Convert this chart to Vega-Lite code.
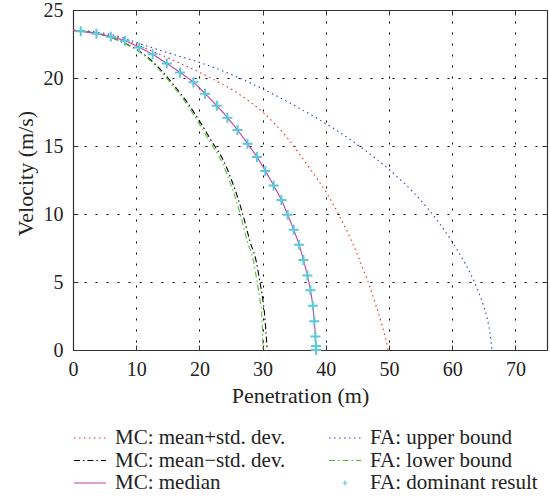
{
  "$schema": "https://vega.github.io/schema/vega-lite/v6.json",
  "width": 474,
  "height": 340,
  "autosize": {"type": "none"},
  "padding": {"left": 73, "top": 10, "right": 3, "bottom": 148},
  "background": "white",
  "config": {
    "view": {"stroke": null},
    "font": "Liberation Serif",
    "axis": {
      "domainColor": "#333333",
      "domainWidth": 1.2,
      "tickColor": "#333333",
      "tickWidth": 1,
      "tickSize": -5,
      "gridColor": "#000000",
      "gridOpacity": 1,
      "gridWidth": 1,
      "gridDash": [2, 9],
      "labelFont": "Liberation Serif",
      "labelFontSize": 20,
      "labelColor": "#222222",
      "labelFlush": false,
      "labelOverlap": false,
      "titleFont": "Liberation Serif",
      "titleFontSize": 22,
      "titleFontWeight": "normal",
      "titleColor": "#222222"
    },
    "legend": {
      "orient": "none",
      "legendX": 0,
      "legendY": 417.5,
      "columns": 2,
      "columnPadding": 42,
      "rowPadding": 0.5,
      "clipHeight": 21,
      "padding": 0,
      "symbolSize": 1024,
      "symbolStrokeWidth": 1.2,
      "labelFont": "Liberation Serif",
      "labelFontSize": 21,
      "labelColor": "#222222",
      "labelOffset": 8,
      "labelLimit": 400
    }
  },
  "datasets": {
    "curves": [
      {"s": "MC: mean+std. dev.", "x": 0, "v": 23.5},
      {"s": "MC: mean+std. dev.", "x": 2, "v": 23.44},
      {"s": "MC: mean+std. dev.", "x": 4, "v": 23.3},
      {"s": "MC: mean+std. dev.", "x": 6, "v": 23.1},
      {"s": "MC: mean+std. dev.", "x": 8, "v": 22.83},
      {"s": "MC: mean+std. dev.", "x": 10, "v": 22.47},
      {"s": "MC: mean+std. dev.", "x": 12, "v": 22.08},
      {"s": "MC: mean+std. dev.", "x": 14, "v": 21.69},
      {"s": "MC: mean+std. dev.", "x": 16, "v": 21.28},
      {"s": "MC: mean+std. dev.", "x": 18, "v": 20.86},
      {"s": "MC: mean+std. dev.", "x": 20, "v": 20.42},
      {"s": "MC: mean+std. dev.", "x": 22, "v": 19.95},
      {"s": "MC: mean+std. dev.", "x": 24, "v": 19.45},
      {"s": "MC: mean+std. dev.", "x": 26, "v": 18.9},
      {"s": "MC: mean+std. dev.", "x": 28, "v": 18.25},
      {"s": "MC: mean+std. dev.", "x": 30, "v": 17.5},
      {"s": "MC: mean+std. dev.", "x": 32, "v": 16.6},
      {"s": "MC: mean+std. dev.", "x": 34, "v": 15.55},
      {"s": "MC: mean+std. dev.", "x": 36, "v": 14.3},
      {"s": "MC: mean+std. dev.", "x": 38, "v": 13.0},
      {"s": "MC: mean+std. dev.", "x": 40, "v": 11.65},
      {"s": "MC: mean+std. dev.", "x": 42, "v": 10.0},
      {"s": "MC: mean+std. dev.", "x": 44, "v": 8.1},
      {"s": "MC: mean+std. dev.", "x": 46, "v": 5.85},
      {"s": "MC: mean+std. dev.", "x": 47, "v": 4.6},
      {"s": "MC: mean+std. dev.", "x": 48, "v": 3.2},
      {"s": "MC: mean+std. dev.", "x": 49, "v": 1.65},
      {"s": "MC: mean+std. dev.", "x": 49.5, "v": 0.8},
      {"s": "MC: mean+std. dev.", "x": 49.85, "v": 0},

      {"s": "FA: upper bound", "x": 0, "v": 23.5},
      {"s": "FA: upper bound", "x": 2, "v": 23.46},
      {"s": "FA: upper bound", "x": 4, "v": 23.36},
      {"s": "FA: upper bound", "x": 6, "v": 23.2},
      {"s": "FA: upper bound", "x": 8, "v": 22.95},
      {"s": "FA: upper bound", "x": 10, "v": 22.62},
      {"s": "FA: upper bound", "x": 12, "v": 22.3},
      {"s": "FA: upper bound", "x": 14, "v": 22.0},
      {"s": "FA: upper bound", "x": 16, "v": 21.72},
      {"s": "FA: upper bound", "x": 18, "v": 21.44},
      {"s": "FA: upper bound", "x": 20, "v": 21.15},
      {"s": "FA: upper bound", "x": 22, "v": 20.82},
      {"s": "FA: upper bound", "x": 24, "v": 20.46},
      {"s": "FA: upper bound", "x": 26, "v": 20.07},
      {"s": "FA: upper bound", "x": 28, "v": 19.65},
      {"s": "FA: upper bound", "x": 30, "v": 19.2},
      {"s": "FA: upper bound", "x": 32, "v": 18.73},
      {"s": "FA: upper bound", "x": 34, "v": 18.24},
      {"s": "FA: upper bound", "x": 36, "v": 17.73},
      {"s": "FA: upper bound", "x": 38, "v": 17.2},
      {"s": "FA: upper bound", "x": 40, "v": 16.65},
      {"s": "FA: upper bound", "x": 42, "v": 16.06},
      {"s": "FA: upper bound", "x": 44, "v": 15.43},
      {"s": "FA: upper bound", "x": 46, "v": 14.76},
      {"s": "FA: upper bound", "x": 48, "v": 14.05},
      {"s": "FA: upper bound", "x": 50, "v": 13.28},
      {"s": "FA: upper bound", "x": 52, "v": 12.44},
      {"s": "FA: upper bound", "x": 54, "v": 11.52},
      {"s": "FA: upper bound", "x": 56, "v": 10.48},
      {"s": "FA: upper bound", "x": 58, "v": 9.3},
      {"s": "FA: upper bound", "x": 60, "v": 7.95},
      {"s": "FA: upper bound", "x": 61, "v": 7.2},
      {"s": "FA: upper bound", "x": 62, "v": 6.4},
      {"s": "FA: upper bound", "x": 63, "v": 5.5},
      {"s": "FA: upper bound", "x": 64, "v": 4.45},
      {"s": "FA: upper bound", "x": 65, "v": 3.2},
      {"s": "FA: upper bound", "x": 65.6, "v": 2.2},
      {"s": "FA: upper bound", "x": 66.05, "v": 1.0},
      {"s": "FA: upper bound", "x": 66.3, "v": 0},

      {"s": "MC: mean−std. dev.", "x": 0, "v": 23.5},
      {"s": "MC: mean−std. dev.", "x": 2, "v": 23.41},
      {"s": "MC: mean−std. dev.", "x": 4, "v": 23.26},
      {"s": "MC: mean−std. dev.", "x": 6, "v": 22.99},
      {"s": "MC: mean−std. dev.", "x": 8, "v": 22.6},
      {"s": "MC: mean−std. dev.", "x": 10, "v": 22.12},
      {"s": "MC: mean−std. dev.", "x": 12, "v": 21.45},
      {"s": "MC: mean−std. dev.", "x": 14, "v": 20.55},
      {"s": "MC: mean−std. dev.", "x": 16, "v": 19.45},
      {"s": "MC: mean−std. dev.", "x": 18, "v": 18.25},
      {"s": "MC: mean−std. dev.", "x": 20, "v": 16.85},
      {"s": "MC: mean−std. dev.", "x": 22, "v": 15.3},
      {"s": "MC: mean−std. dev.", "x": 24, "v": 13.75},
      {"s": "MC: mean−std. dev.", "x": 25, "v": 12.6},
      {"s": "MC: mean−std. dev.", "x": 26, "v": 11.3},
      {"s": "MC: mean−std. dev.", "x": 27, "v": 9.75},
      {"s": "MC: mean−std. dev.", "x": 28, "v": 8.0},
      {"s": "MC: mean−std. dev.", "x": 29, "v": 6.5},
      {"s": "MC: mean−std. dev.", "x": 29.5, "v": 5.2},
      {"s": "MC: mean−std. dev.", "x": 30, "v": 3.8},
      {"s": "MC: mean−std. dev.", "x": 30.3, "v": 2.7},
      {"s": "MC: mean−std. dev.", "x": 30.5, "v": 1.5},
      {"s": "MC: mean−std. dev.", "x": 30.65, "v": 0.5},
      {"s": "MC: mean−std. dev.", "x": 30.7, "v": 0},

      {"s": "FA: lower bound", "x": 0, "v": 23.5},
      {"s": "FA: lower bound", "x": 2, "v": 23.41},
      {"s": "FA: lower bound", "x": 4, "v": 23.26},
      {"s": "FA: lower bound", "x": 6, "v": 22.98},
      {"s": "FA: lower bound", "x": 7.9, "v": 22.6},
      {"s": "FA: lower bound", "x": 9.85, "v": 22.12},
      {"s": "FA: lower bound", "x": 11.82, "v": 21.45},
      {"s": "FA: lower bound", "x": 13.79, "v": 20.55},
      {"s": "FA: lower bound", "x": 15.76, "v": 19.45},
      {"s": "FA: lower bound", "x": 17.73, "v": 18.25},
      {"s": "FA: lower bound", "x": 19.7, "v": 16.85},
      {"s": "FA: lower bound", "x": 21.67, "v": 15.3},
      {"s": "FA: lower bound", "x": 23.64, "v": 13.75},
      {"s": "FA: lower bound", "x": 24.63, "v": 12.6},
      {"s": "FA: lower bound", "x": 25.61, "v": 11.3},
      {"s": "FA: lower bound", "x": 26.6, "v": 9.75},
      {"s": "FA: lower bound", "x": 27.58, "v": 8.0},
      {"s": "FA: lower bound", "x": 28.57, "v": 6.5},
      {"s": "FA: lower bound", "x": 29.06, "v": 5.2},
      {"s": "FA: lower bound", "x": 29.55, "v": 3.8},
      {"s": "FA: lower bound", "x": 29.85, "v": 2.7},
      {"s": "FA: lower bound", "x": 29.97, "v": 1.5},
      {"s": "FA: lower bound", "x": 30.03, "v": 0.5},
      {"s": "FA: lower bound", "x": 30.05, "v": 0},

      {"s": "MC: median", "x": 0, "v": 23.5},
      {"s": "MC: median", "x": 1.22, "v": 23.43},
      {"s": "MC: median", "x": 3.71, "v": 23.26},
      {"s": "MC: median", "x": 5.98, "v": 23.04},
      {"s": "MC: median", "x": 8.2, "v": 22.74},
      {"s": "MC: median", "x": 10.48, "v": 22.25},
      {"s": "MC: median", "x": 12.6, "v": 21.74},
      {"s": "MC: median", "x": 14.83, "v": 21.07},
      {"s": "MC: median", "x": 16.94, "v": 20.41},
      {"s": "MC: median", "x": 19.05, "v": 19.68},
      {"s": "MC: median", "x": 20.9, "v": 18.85},
      {"s": "MC: median", "x": 22.76, "v": 17.96},
      {"s": "MC: median", "x": 24.44, "v": 17.08},
      {"s": "MC: median", "x": 26.03, "v": 16.18},
      {"s": "MC: median", "x": 27.62, "v": 15.17},
      {"s": "MC: median", "x": 29.1, "v": 14.2},
      {"s": "MC: median", "x": 30.43, "v": 13.17},
      {"s": "MC: median", "x": 31.75, "v": 12.09},
      {"s": "MC: median", "x": 32.97, "v": 11.03},
      {"s": "MC: median", "x": 33.97, "v": 9.95},
      {"s": "MC: median", "x": 34.92, "v": 8.84},
      {"s": "MC: median", "x": 35.78, "v": 7.74},
      {"s": "MC: median", "x": 36.46, "v": 6.62},
      {"s": "MC: median", "x": 37.09, "v": 5.48},
      {"s": "MC: median", "x": 37.57, "v": 4.39},
      {"s": "MC: median", "x": 37.94, "v": 3.26},
      {"s": "MC: median", "x": 38.18, "v": 2.12},
      {"s": "MC: median", "x": 38.35, "v": 1.0},
      {"s": "MC: median", "x": 38.48, "v": 0}
    ],
    "markers": [
      {"s": "FA: dominant result", "x": 1.22, "v": 23.43},
      {"s": "FA: dominant result", "x": 3.71, "v": 23.26},
      {"s": "FA: dominant result", "x": 5.98, "v": 23.04},
      {"s": "FA: dominant result", "x": 8.2, "v": 22.74},
      {"s": "FA: dominant result", "x": 10.48, "v": 22.25},
      {"s": "FA: dominant result", "x": 12.6, "v": 21.74},
      {"s": "FA: dominant result", "x": 14.83, "v": 21.07},
      {"s": "FA: dominant result", "x": 16.94, "v": 20.41},
      {"s": "FA: dominant result", "x": 19.05, "v": 19.68},
      {"s": "FA: dominant result", "x": 20.9, "v": 18.85},
      {"s": "FA: dominant result", "x": 22.76, "v": 17.96},
      {"s": "FA: dominant result", "x": 24.44, "v": 17.08},
      {"s": "FA: dominant result", "x": 26.03, "v": 16.18},
      {"s": "FA: dominant result", "x": 27.62, "v": 15.17},
      {"s": "FA: dominant result", "x": 29.1, "v": 14.2},
      {"s": "FA: dominant result", "x": 30.43, "v": 13.17},
      {"s": "FA: dominant result", "x": 31.75, "v": 12.09},
      {"s": "FA: dominant result", "x": 32.97, "v": 11.03},
      {"s": "FA: dominant result", "x": 33.97, "v": 9.95},
      {"s": "FA: dominant result", "x": 34.92, "v": 8.84},
      {"s": "FA: dominant result", "x": 35.78, "v": 7.74},
      {"s": "FA: dominant result", "x": 36.46, "v": 6.62},
      {"s": "FA: dominant result", "x": 37.09, "v": 5.48},
      {"s": "FA: dominant result", "x": 37.57, "v": 4.39},
      {"s": "FA: dominant result", "x": 37.94, "v": 3.26},
      {"s": "FA: dominant result", "x": 38.18, "v": 2.12},
      {"s": "FA: dominant result", "x": 38.35, "v": 1.0},
      {"s": "FA: dominant result", "x": 38.45, "v": 0.3},
      {"s": "FA: dominant result", "x": 38.48, "v": 0}
    ]
  },
  "layer": [
    {
      "data": {"name": "curves"},
      "mark": {"type": "line", "interpolate": "monotone", "strokeWidth": 1.1},
      "encoding": {
        "x": {
          "field": "x", "type": "quantitative",
          "scale": {"domain": [0, 75], "nice": false, "zero": false},
          "axis": {
            "orient": "bottom",
            "values": [0, 10, 20, 30, 40, 50, 60, 70],
            "grid": true,
            "labelBaseline": "alphabetic",
            "labelPadding": 30.7,
            "title": "Penetration (m)",
            "titleBaseline": "alphabetic",
            "titleAlign": "center",
            "titleX": 227,
            "titleY": 52
          }
        },
        "y": {
          "field": "v", "type": "quantitative",
          "scale": {"domain": [0, 25], "nice": false, "zero": false},
          "axis": {
            "orient": "left",
            "values": [0, 5, 10, 15, 20, 25],
            "grid": true,
            "labelBaseline": "middle",
            "labelAlign": "right",
            "labelPadding": 15,
            "title": "Velocity (m/s)",
            "titleAngle": -90,
            "titleBaseline": "alphabetic",
            "titleAlign": "center",
            "titleX": -41,
            "titleY": 163
          }
        },
        "color": {
          "field": "s", "type": "nominal",
          "scale": {
            "domain": ["MC: mean+std. dev.", "MC: mean−std. dev.", "MC: median", "FA: upper bound", "FA: lower bound", "FA: dominant result"],
            "range": ["#ff2020", "#000000", "#bf40a8", "#2244dd", "#55bb33", "#5cc8d8"]
          },
          "legend": {"title": null}
        },
        "strokeDash": {
          "field": "s", "type": "nominal",
          "scale": {
            "domain": ["MC: mean+std. dev.", "MC: mean−std. dev.", "MC: median", "FA: upper bound", "FA: lower bound", "FA: dominant result"],
            "range": [[1.5, 3.5], [6, 3, 1.5, 3], [1, 0], [1.5, 3.5], [6, 3, 1.5, 3], [1, 0]]
          },
          "legend": {"title": null}
        }
      }
    },
    {
      "data": {"name": "markers"},
      "mark": {"type": "point", "filled": false, "size": 4444, "strokeWidth": 2, "opacity": 1},
      "encoding": {
        "x": {"field": "x", "type": "quantitative", "axis": null},
        "y": {"field": "v", "type": "quantitative", "axis": null},
        "color": {
          "field": "s", "type": "nominal",
          "scale": {
            "domain": ["MC: mean+std. dev.", "MC: mean−std. dev.", "MC: median", "FA: upper bound", "FA: lower bound", "FA: dominant result"],
            "range": ["#ff2020", "#000000", "#bf40a8", "#2244dd", "#55bb33", "#5cc8d8"]
          },
          "legend": {"title": null}
        },
        "shape": {
          "field": "s", "type": "nominal",
          "scale": {
            "domain": ["MC: mean+std. dev.", "MC: mean−std. dev.", "MC: median", "FA: upper bound", "FA: lower bound", "FA: dominant result"],
            "range": ["stroke", "stroke", "stroke", "stroke", "stroke", "M-0.15,0L0.15,0M0,-0.15L0,0.15"]
          },
          "legend": {"title": null}
        }
      }
    },
    {
      "data": {"name": "curves"},
      "mark": {"type": "line", "opacity": 0},
      "encoding": {
        "x": {
          "field": "x", "type": "quantitative",
          "axis": {"orient": "top", "values": [0, 10, 20, 30, 40, 50, 60, 70], "labels": false, "grid": false, "title": null}
        },
        "y": {
          "field": "v", "type": "quantitative",
          "axis": {"orient": "right", "values": [0, 5, 10, 15, 20, 25], "labels": false, "grid": false, "title": null}
        },
        "detail": {"field": "s", "type": "nominal"}
      }
    }
  ],
  "resolve": {"axis": {"x": "independent", "y": "independent"}}
}
